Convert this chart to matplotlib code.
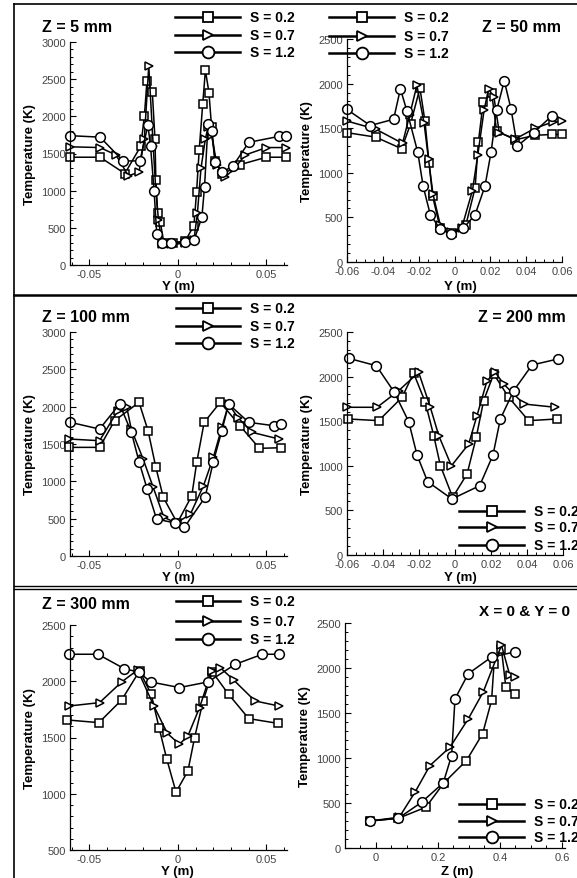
import matplotlib
matplotlib.use("Agg")
import matplotlib.pyplot as plt
from matplotlib.lines import Line2D
from matplotlib.ticker import MultipleLocator

plt.rcParams['font.family'] = ['Liberation Sans', 'DejaVu Sans']

# ---- data (Y in m, T in K) ----
# Z = 5 mm
y5_s02 = [-0.061, -0.044, -0.030, -0.021, -0.019, -0.0175, -0.0145, -0.013, -0.0125, -0.0115, -0.010, -0.008,
          -0.003, 0.004, 0.009, 0.0105, 0.012, 0.014, 0.0155, 0.0175, 0.019, 0.021, 0.025, 0.035, 0.050, 0.061]
t5_s02 = [1450, 1450, 1230, 1600, 2000, 2480, 2330, 1700, 1150, 700, 580, 300,
          300, 320, 530, 980, 1550, 2170, 2620, 2320, 1850, 1400, 1220, 1350, 1450, 1450]
y5_s07 = [-0.061, -0.044, -0.035, -0.028, -0.022, -0.019, -0.0165, -0.014, -0.0125, -0.011, -0.009, -0.004,
          0.004, 0.009, 0.011, 0.013, 0.0155, 0.017, 0.019, 0.022, 0.0265, 0.032, 0.038, 0.050, 0.061]
t5_s07 = [1590, 1580, 1480, 1200, 1250, 1700, 2680, 1600, 1000, 600, 280, 280,
          290, 330, 700, 1300, 1700, 1850, 1750, 1350, 1180, 1300, 1480, 1580, 1580]
y5_s12 = [-0.061, -0.044, -0.031, -0.0215, -0.017, -0.0155, -0.0135, -0.012, -0.009, -0.004, 0.004, 0.009,
          0.0135, 0.015, 0.017, 0.019, 0.021, 0.025, 0.031, 0.040, 0.057, 0.061]
t5_s12 = [1740, 1720, 1400, 1400, 1880, 1600, 1000, 420, 290, 300, 310, 330,
          640, 1050, 1900, 1800, 1380, 1250, 1330, 1650, 1730, 1730]

# Z = 50 mm
y50_s02 = [-0.06, -0.044, -0.0295, -0.0245, -0.0193, -0.0165, -0.0142, -0.0122, -0.008, -0.0016, 0.0064,
           0.0115, 0.0133, 0.016, 0.0207, 0.0235, 0.0338, 0.045, 0.0544, 0.06]
t50_s02 = [1450, 1400, 1270, 1550, 1950, 1580, 1110, 735, 380, 320, 420,
           830, 1340, 1790, 1900, 1470, 1370, 1420, 1430, 1430]
y50_s07 = [-0.06, -0.044, -0.029, -0.025, -0.021, -0.017, -0.0145, -0.012, -0.008, -0.002, 0.004,
           0.010, 0.013, 0.0165, 0.019, 0.022, 0.025, 0.034, 0.045, 0.055, 0.06]
t50_s07 = [1580, 1490, 1330, 1650, 1980, 1560, 1150, 760, 420, 340, 380,
           800, 1200, 1700, 1940, 1850, 1450, 1380, 1500, 1570, 1580]
y50_s12 = [-0.06, -0.047, -0.034, -0.0302, -0.0265, -0.0205, -0.0175, -0.0135, -0.008, -0.0018, 0.005,
           0.0115, 0.017, 0.0204, 0.0235, 0.0278, 0.0316, 0.035, 0.0442, 0.0544]
t50_s12 = [1710, 1530, 1600, 1940, 1690, 1230, 850, 530, 370, 310, 380,
           530, 850, 1230, 1700, 2030, 1710, 1300, 1450, 1640]

# Z = 100 mm
y100_s02 = [-0.0617, -0.0443, -0.0358, -0.022, -0.0169, -0.0125, -0.0083, -0.0004, 0.0078, 0.0106,
            0.0148, 0.0239, 0.035, 0.046, 0.058]
t100_s02 = [1455, 1455, 1812, 2058, 1678, 1188, 786, 442, 807, 1255,
            1790, 2058, 1745, 1442, 1450]
y100_s07 = [-0.0617, -0.0443, -0.034, -0.029, -0.0264, -0.0197, -0.014, -0.008, -0.001, 0.007,
            0.0144, 0.020, 0.0248, 0.0286, 0.034, 0.0419, 0.057]
t100_s07 = [1567, 1544, 1946, 2000, 1700, 1299, 920, 520, 440, 560,
            941, 1322, 1723, 2035, 1850, 1656, 1567]
y100_s12 = [-0.0608, -0.0443, -0.033, -0.0263, -0.022, -0.0174, -0.0121, -0.0017, 0.0036, 0.0153,
            0.020, 0.0248, 0.0286, 0.040, 0.0542, 0.058]
t100_s12 = [1790, 1700, 2035, 1656, 1263, 897, 495, 442, 384, 786,
            1263, 1678, 2035, 1790, 1745, 1770]

# Z = 200 mm
y200_s02 = [-0.0594, -0.0424, -0.0294, -0.023, -0.0165, -0.0118, -0.0081, -0.0013, 0.0067, 0.0118,
            0.0159, 0.0215, 0.0298, 0.0409, 0.0567]
t200_s02 = [1525, 1506, 1768, 2040, 1712, 1337, 1001, 647, 908, 1319,
            1730, 2029, 1768, 1506, 1525]
y200_s07 = [-0.06, -0.0433, -0.0313, -0.0202, -0.0137, -0.009, -0.002, 0.0076, 0.0122,
            0.0178, 0.0224, 0.027, 0.0382, 0.0557]
t200_s07 = [1656, 1656, 1842, 2048, 1656, 1337, 1000, 1244, 1561,
            1954, 2048, 1917, 1693, 1656]
y200_s12 = [-0.0591, -0.0437, -0.0337, -0.0257, -0.0211, -0.0152, -0.0017, 0.0137, 0.0211, 0.0252,
            0.0326, 0.0428, 0.057]
t200_s12 = [2205, 2122, 1824, 1494, 1121, 822, 628, 777, 1121, 1525,
            1842, 2130, 2197]

# Z = 300 mm
y300_s02 = [-0.0625, -0.0447, -0.0318, -0.0217, -0.0151, -0.0107, -0.0063, -0.0011, 0.0056, 0.0094,
            0.0142, 0.0194, 0.0286, 0.040, 0.0563]
t300_s02 = [1656, 1632, 1834, 2092, 1884, 1588, 1306, 1015, 1202, 1499,
            1825, 2083, 1884, 1668, 1626]
y300_s07 = [-0.0615, -0.0443, -0.0318, -0.0228, -0.0136, -0.006, 0.0008, 0.0056, 0.0122, 0.019,
            0.0238, 0.0314, 0.0435, 0.057]
t300_s07 = [1780, 1810, 1994, 2100, 1780, 1537, 1440, 1513, 1766, 2092,
            2122, 2012, 1825, 1780]
y300_s12 = [-0.0615, -0.0452, -0.0305, -0.022, -0.0155, 0.0008, 0.017, 0.0324, 0.0477, 0.057]
t300_s12 = [2240, 2240, 2113, 2080, 1994, 1944, 1994, 2151, 2240, 2240]

# centreline, X = 0 & Y = 0 (Z in m)
z_s02 = [-0.02, 0.072, 0.161, 0.219, 0.292, 0.344, 0.373, 0.381, 0.405, 0.419, 0.448]
tz_s02 = [300, 330, 453, 723, 972, 1269, 1639, 2048, 2207, 1789, 1714]
z_s07 = [-0.02, 0.075, 0.126, 0.174, 0.239, 0.298, 0.346, 0.405, 0.432, 0.45]
tz_s07 = [300, 342, 620, 916, 1121, 1436, 1733, 2252, 1918, 1900]
z_s12 = [-0.02, 0.072, 0.147, 0.217, 0.244, 0.255, 0.298, 0.373, 0.448]
tz_s12 = [300, 330, 508, 723, 1027, 1658, 1937, 2122, 2178]

swirl_labels = ['S = 0.2', 'S = 0.7', 'S = 1.2']
markers = ['s', '>', 'o']
msizes = [5.5, 6, 7]

W, H = 577, 879
fig = plt.figure(figsize=(W / 100, H / 100), dpi=100)


def fx(x):
    return x / W


def fy(y):
    return 1 - y / H


def make_axes(left, top, right, bottom):
    ax = fig.add_axes([fx(left), fy(bottom), (right - left) / W, (bottom - top) / H])
    ax.patch.set_alpha(0)
    for s in ['top', 'right']:
        ax.spines[s].set_visible(False)
    for s in ['left', 'bottom']:
        ax.spines[s].set_linewidth(0.9)
    ax.tick_params(which='both', direction='in', labelsize=8, labelcolor='#444444', pad=3)
    ax.tick_params(which='major', length=4, width=0.8)
    ax.tick_params(which='minor', length=2, width=0.7)
    return ax


def draw_series(ax, xs, ts):
    for x, t, m, ms in zip(xs, ts, markers, msizes):
        ax.plot(x, t, color='black', lw=1.1, marker=m, ms=ms, mfc='white', mec='black', mew=1.1,
                clip_on=False)


def draw_legend(x0, x1, xt, rows):
    xm = (x0 + x1) / 2
    for y, lab, m, ms in zip(rows, swirl_labels, markers, msizes):
        fig.add_artist(Line2D([fx(x0), fx(x1)], [fy(y), fy(y)], color='black', lw=1.8))
        fig.add_artist(Line2D([fx(xm)], [fy(y)], marker=m, ms=ms + 1.5, mfc='white', mec='black', mew=1.3))
        fig.text(fx(xt), fy(y), lab, fontsize=10, fontweight='bold', va='center', ha='left')


def fmt_tick(v, pos):
    return '%g' % v


# ---- panels ----
panels = [
    # (left, top, right, bottom), xlim, ylim, x major step, x minor step, x lists, T lists
    ((70, 43, 287, 266), (-0.061, 0.0616), (0, 3000), 0.05, 0.01, [y5_s02, y5_s07, y5_s12], [t5_s02, t5_s07, t5_s12]),
    ((347, 40, 562, 263), (-0.06, 0.06), (0, 2500), 0.02, 0.005, [y50_s02, y50_s07, y50_s12], [t50_s02, t50_s07, t50_s12]),
    ((70, 333, 287, 557), (-0.061, 0.0616), (0, 3000), 0.05, 0.01, [y100_s02, y100_s07, y100_s12], [t100_s02, t100_s07, t100_s12]),
    ((347, 333, 563, 556), (-0.06, 0.06), (0, 2500), 0.02, 0.005, [y200_s02, y200_s07, y200_s12], [t200_s02, t200_s07, t200_s12]),
    ((70, 626, 287, 851), (-0.061, 0.0616), (500, 2500), 0.05, 0.01, [y300_s02, y300_s07, y300_s12], [t300_s02, t300_s07, t300_s12]),
    ((345, 624, 565, 849), (-0.1, 0.61), (0, 2500), 0.2, 0.05, [z_s02, z_s07, z_s12], [tz_s02, tz_s07, tz_s12]),
]

for box, xl, yl, xmaj, xmin, xs, ts in panels:
    ax = make_axes(*box)
    draw_series(ax, xs, ts)
    ax.set_xlim(*xl)
    ax.set_ylim(*yl)
    ax.xaxis.set_major_locator(MultipleLocator(xmaj))
    ax.xaxis.set_minor_locator(MultipleLocator(xmin))
    ax.yaxis.set_major_locator(MultipleLocator(500))
    ax.yaxis.set_minor_locator(MultipleLocator(100))
    ax.xaxis.set_major_formatter(plt.FuncFormatter(fmt_tick))
    left, top, right, bottom = box
    fig.text(fx(left - 40), fy((top + bottom) / 2), 'Temperature (K)', rotation=90, fontsize=9.5,
             fontweight='bold', ha='center', va='center')

# x-axis labels
fig.text(fx(178), fy(287), 'Y (m)', fontsize=9.5, fontweight='bold', ha='center', va='center')
fig.text(fx(460), fy(287), 'Y (m)', fontsize=9.5, fontweight='bold', ha='center', va='center')
fig.text(fx(178), fy(578), 'Y (m)', fontsize=9.5, fontweight='bold', ha='center', va='center')
fig.text(fx(460), fy(578), 'Y (m)', fontsize=9.5, fontweight='bold', ha='center', va='center')
fig.text(fx(177), fy(872), 'Y (m)', fontsize=9.5, fontweight='bold', ha='center', va='center')
fig.text(fx(457), fy(872), 'Z (m)', fontsize=9.5, fontweight='bold', ha='center', va='center')

# panel titles
fig.text(fx(42), fy(27), 'Z = 5 mm', fontsize=11.5, fontweight='bold', va='center', ha='left')
fig.text(fx(482), fy(27), 'Z = 50 mm', fontsize=11.5, fontweight='bold', va='center', ha='left')
fig.text(fx(42), fy(318), 'Z = 100 mm', fontsize=11.5, fontweight='bold', va='center', ha='left')
fig.text(fx(478), fy(317), 'Z = 200 mm', fontsize=11.5, fontweight='bold', va='center', ha='left')
fig.text(fx(42), fy(605), 'Z = 300 mm', fontsize=11.5, fontweight='bold', va='center', ha='left')
fig.text(fx(479), fy(612), 'X = 0 & Y = 0', fontsize=11, fontweight='bold', va='center', ha='left')

# legends
draw_legend(175, 240, 250, [18, 36, 53])
draw_legend(329, 394, 404, [18, 37, 54])
draw_legend(176, 240, 250, [309, 327, 344])
draw_legend(459, 524, 534, [512, 528, 546])
draw_legend(176, 240, 250, [602, 622, 640])
draw_legend(459, 524, 534, [805, 822, 838])

# frame lines of the composite
fig.add_artist(Line2D([fx(14), 1], [fy(5), fy(5)], color='black', lw=1.2))
fig.add_artist(Line2D([fx(14), fx(14)], [fy(5), 0], color='black', lw=1.2))
fig.add_artist(Line2D([fx(14), 1], [fy(296), fy(296)], color='black', lw=1.8))
fig.add_artist(Line2D([fx(14), 1], [fy(586.5), fy(586.5)], color='black', lw=1.0))
fig.add_artist(Line2D([fx(14), 1], [fy(589.5), fy(589.5)], color='black', lw=1.0))

fig.savefig('out.png', dpi=100, facecolor='white')
